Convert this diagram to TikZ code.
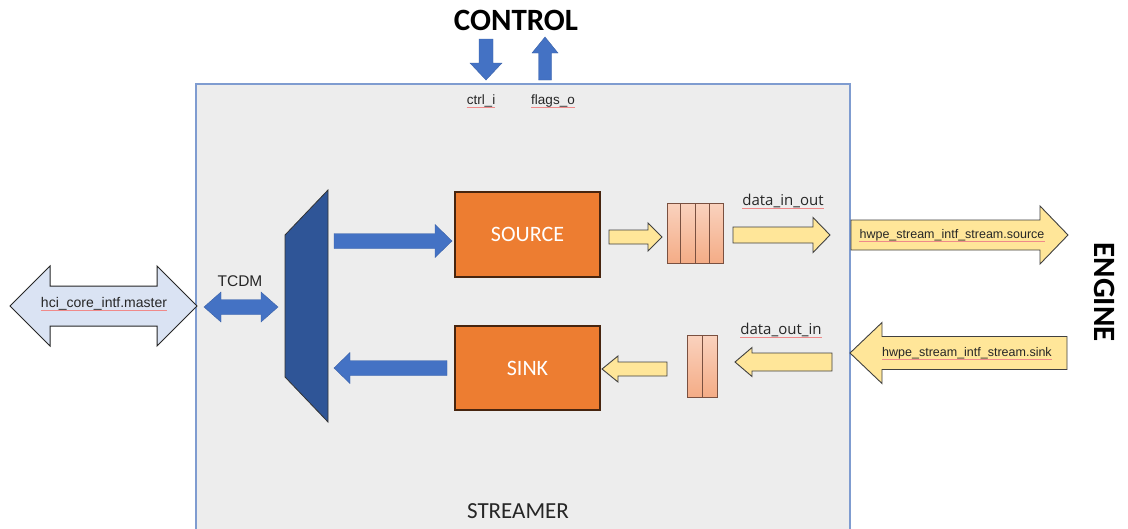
\documentclass[tikz,border=0pt]{standalone}
\usepackage{fontspec}
\setmainfont{Liberation Sans}
\newfontfamily\calib{Carlito}
\newfontfamily\uifont{Open Sans}
\definecolor{blueA}{HTML}{4472C4}
\definecolor{navy}{HTML}{2F5597}
\definecolor{orangeA}{HTML}{ED7D31}
\definecolor{yellowA}{HTML}{FFE699}
\definecolor{paleblue}{HTML}{DAE3F3}
\definecolor{fifotop}{HTML}{FAD2BE}
\definecolor{fifobot}{HTML}{F4AC86}
\definecolor{fifoline}{HTML}{7A5040}
\definecolor{streamerbg}{HTML}{EDEDED}
\definecolor{streamerline}{HTML}{7F9CD0}
\definecolor{spellred}{HTML}{F08A8A}

% block arrows: style, x of tail and tip, centre, shaft half width, head half width, head length
\newcommand\rarr[7]{\path[#1] (#2,#4-#5) -- (#3-#7,#4-#5) -- (#3-#7,#4-#6) -- (#3,#4) -- (#3-#7,#4+#6) -- (#3-#7,#4+#5) -- (#2,#4+#5) -- cycle;}
\newcommand\larr[7]{\path[#1] (#2,#4) -- (#2+#7,#4-#6) -- (#2+#7,#4-#5) -- (#3,#4-#5) -- (#3,#4+#5) -- (#2+#7,#4+#5) -- (#2+#7,#4+#6) -- cycle;}
\newcommand\dblarr[7]{\path[#1] (#2,#4) -- (#2+#7,#4-#6) -- (#2+#7,#4-#5) -- (#3-#7,#4-#5) -- (#3-#7,#4-#6) -- (#3,#4) -- (#3-#7,#4+#6) -- (#3-#7,#4+#5) -- (#2+#7,#4+#5) -- (#2+#7,#4+#6) -- cycle;}
% vertical: style, x centre, y tail, y tip, shaft half, head half, head length
\newcommand\downarr[7]{\path[#1] (#2-#5,#3) -- (#2-#5,#4-#7) -- (#2-#6,#4-#7) -- (#2,#4) -- (#2+#6,#4-#7) -- (#2+#5,#4-#7) -- (#2+#5,#3) -- cycle;}
\newcommand\uparr[7]{\path[#1] (#2-#5,#3) -- (#2-#5,#4+#7) -- (#2-#6,#4+#7) -- (#2,#4) -- (#2+#6,#4+#7) -- (#2+#5,#4+#7) -- (#2+#5,#3) -- cycle;}

\begin{document}
\begin{tikzpicture}[x=1pt,y=-1pt,
  bluearrow/.style={fill=blueA, draw=blueA!85!black, line width=0.4},
  yelarrow/.style={fill=yellowA, draw=black!75, line width=0.9},
  ifarrow/.style={fill=paleblue, draw=black!85, line width=1},
  fifo/.style={top color=fifotop, bottom color=fifobot, draw=fifoline, line width=1},
  fifoline/.style={draw=fifoline, line width=1},
  stage/.style={fill=orangeA, draw=black!70!orangeA, line width=1.1, text=white,
    font=\calib\fontsize{22}{24}\selectfont},
  small/.style={inner sep=0, font=\fontsize{12.5}{14}\selectfont, text=black!85},
  mid/.style={inner sep=0, font=\fontsize{15.5}{18}\selectfont, text=black!85},
  title/.style={inner sep=0, font=\calib\bfseries\fontsize{31}{34}\selectfont},
  spell/.style={draw=spellred, line width=0.7}]

\useasboundingbox (0,0) rectangle (1128,528);
\fill[white] (0,0) rectangle (1128,528);

% streamer frame
\draw[fill=streamerbg, draw=streamerline, line width=1.2] (196,84) rectangle (850,540);
\node[inner sep=0, font=\calib\fontsize{23}{26}\selectfont, text=black!85] (streamer) at (518,511) {STREAMER};

% control interface
\node[title] (control) at (516,20) {CONTROL};
\downarr{bluearrow}{486}{39}{80}{7}{16}{17}
\uparr{bluearrow}{545}{80}{37}{6.5}{13}{16}
\node[small, font=\fontsize{13.5}{15}\selectfont] (ctrl) at (481,101) {ctrl\_i};
\node[small, font=\fontsize{13.5}{15}\selectfont] (flags) at (553,101) {flags\_o};
\draw[spell] ([yshift=-3pt]ctrl.base west) -- ([yshift=-3pt]ctrl.base east);
\draw[spell] ([yshift=-3pt]flags.base west) -- ([yshift=-3pt]flags.base east);

% memory side
\dblarr{ifarrow}{10}{197}{306}{20}{40}{40}
\node[small, font=\fontsize{14}{16}\selectfont] (hci) at (104,304) {hci\_core\_intf.master};
\draw[spell] ([yshift=-3pt]hci.base west) -- ([yshift=-3pt]hci.base east);
\node[mid] (tcdm) at (240,281) {TCDM};
\dblarr{bluearrow}{204}{278}{307}{7.5}{15}{17}

% interconnect mux
\path[fill=navy, draw=black!80, line width=0.8] (285,235) -- (328,190) -- (328,422) -- (285,377) -- cycle;
\rarr{bluearrow}{334}{452}{241}{7.5}{16.5}{17}
\larr{bluearrow}{334}{447}{368}{7.5}{15.5}{16}

% source / sink
\node[stage, minimum width=145, minimum height=85] (source) at (527.5,234.5) {SOURCE};
\node[stage, minimum width=145, minimum height=84] (sink) at (527.5,368) {SINK};

% upper stream path
\rarr{yelarrow}{609}{662}{237}{7}{14}{14}
\path[fifo] (667,203) rectangle (723,263);
\draw[fifoline] (680,203) -- (680,263) (695,203) -- (695,263) (709,203) -- (709,263);
\node[mid, font=\uifont\fontsize{15}{18}\selectfont] (din) at (783,201) {data\_in\_out};
\draw[spell] ([yshift=-3pt]din.base west) -- ([yshift=-3pt]din.base east);
\rarr{yelarrow}{733}{830}{235}{8}{17.5}{17}

% lower stream path
\larr{yelarrow}{602}{667}{369}{7}{13}{16}
\path[fifo] (687,335) rectangle (717,397);
\draw[fifoline] (702,335) -- (702,397);
\node[mid, font=\uifont\fontsize{15}{18}\selectfont] (dout) at (781,330) {data\_out\_in};
\draw[spell] ([yshift=-3pt]dout.base west) -- ([yshift=-3pt]dout.base east);
\larr{yelarrow}{735}{832}{362}{9}{14.5}{17}

% engine side
\rarr{yelarrow}{851}{1068}{235}{15}{29}{28}
\node[small] (hsrc) at (952,235) {hwpe\_stream\_intf\_stream.source};
\draw[spell] ([yshift=-3pt]hsrc.base west) -- ([yshift=-3pt]hsrc.base east);
\larr{yelarrow}{850}{1067}{353}{16.5}{30.5}{32}
\node[small] (hsink) at (967,353) {hwpe\_stream\_intf\_stream.sink};
\draw[spell] ([yshift=-3pt]hsink.base west) -- ([yshift=-3pt]hsink.base east);
\node[title, rotate=-90] (engine) at (1105,292) {ENGINE};
\end{tikzpicture}
\end{document}
